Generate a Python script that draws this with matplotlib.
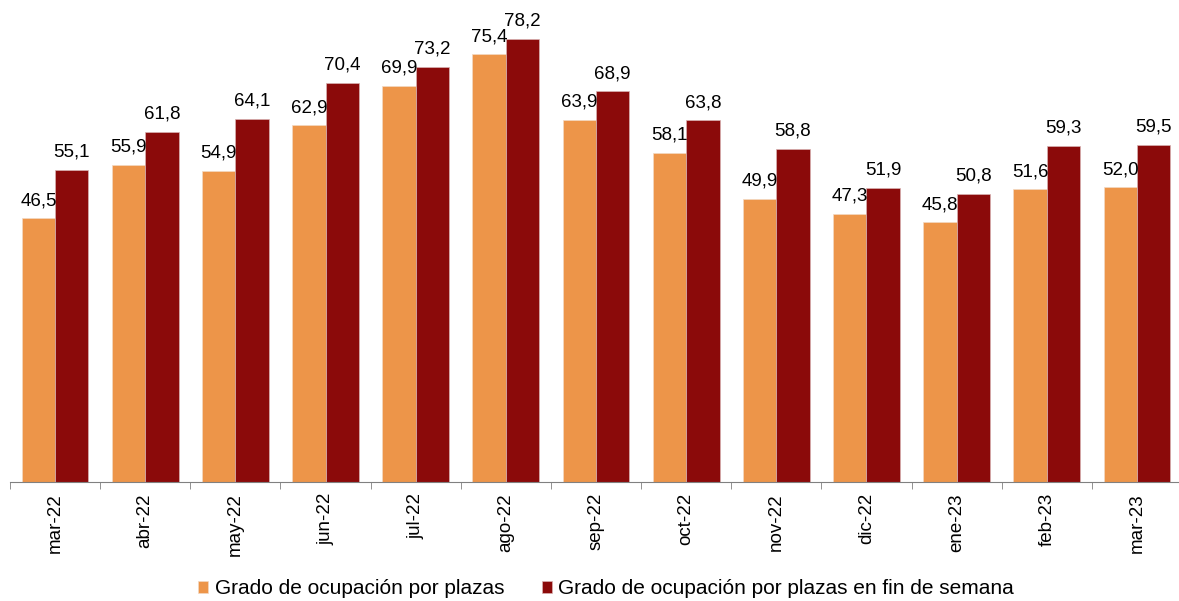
import numpy as np
import matplotlib.pyplot as plt

plt.rcParams['font.family'] = ['Liberation Sans', 'DejaVu Sans']

# data
months = ['mar-22', 'abr-22', 'may-22', 'jun-22', 'jul-22', 'ago-22', 'sep-22',
          'oct-22', 'nov-22', 'dic-22', 'ene-23', 'feb-23', 'mar-23']
plazas = [46.5, 55.9, 54.9, 62.9, 69.9, 75.4, 63.9, 58.1, 49.9, 47.3, 45.8, 51.6, 52.0]
plazas_finde = [55.1, 61.8, 64.1, 70.4, 73.2, 78.2, 68.9, 63.8, 58.8, 51.9, 50.8, 59.3, 59.5]

orange = '#ED9549'
darkred = '#8B0A0A'

fig = plt.figure(figsize=(11.79, 6.01), dpi=100)
ax = fig.add_axes([10 / 1179, 1 - 482 / 601, 1172 / 1179, 482 / 601])

x = np.arange(len(months))
w = 0.37
b1 = ax.bar(x - w / 2, plazas, w, color=orange, edgecolor='#f3d9c4', linewidth=0.5,
            label='Grado de ocupación por plazas')
b2 = ax.bar(x + w / 2, plazas_finde, w, color=darkred, edgecolor='#d9b3b3', linewidth=0.5,
            label='Grado de ocupación por plazas en fin de semana')

# value labels with comma decimals
for bars in (b1, b2):
    for r in bars:
        h = r.get_height()
        ax.text(r.get_x() + r.get_width() / 2, h + 1.6, f'{h:.1f}'.replace('.', ','),
                ha='center', va='bottom', fontsize=13.5)

ax.set_xlim(-0.5, len(months) - 0.5)
ax.set_ylim(0, 85)
ax.set_yticks([])
for s in ('top', 'right', 'left'):
    ax.spines[s].set_visible(False)
ax.spines['bottom'].set_color('#808080')

ax.set_xticks(x)
ax.set_xticklabels(months, rotation=90, fontsize=13.5)
ax.tick_params(axis='x', which='major', length=0, pad=8)
ax.set_xticks(np.arange(len(months)) - 0.5, minor=True)
ax.tick_params(axis='x', which='minor', length=5, color='#808080')

fig.legend(loc='center', bbox_to_anchor=(606 / 1179, 1 - 589 / 601), ncol=2, frameon=False,
           fontsize=15, handlelength=0.5, handleheight=0.5, handletextpad=0.3,
           columnspacing=1.8)

fig.savefig('out.png', dpi=100)
